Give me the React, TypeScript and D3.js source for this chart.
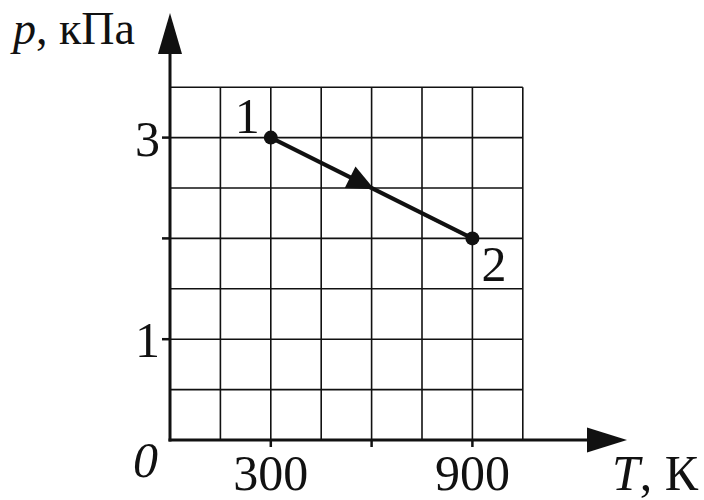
import React from "react";
import * as d3 from "d3";

const W = 704;
const H = 500;

// Data
const gridT = [150, 300, 450, 600, 750, 900, 1050];
const gridP = [0.5, 1, 1.5, 2, 2.5, 3, 3.5];
const tickT = [300, 600, 900];
const tickP = [1, 2, 3];
const labelT = [300, 900];
const labelP = [1, 3];
const processT = [300, 900];
const processP = [3, 2];
const processNames = ["1", "2"];

const FONT = "'Liberation Serif', 'DejaVu Serif', serif";

export default function App() {
  const x = d3.scaleLinear().domain([0, 1050]).range([170, 522.8]);
  const y = d3.scaleLinear().domain([0, 3.5]).range([440, 87.2]);

  const pts = processT.map((t, i) => ({ t, p: processP[i], name: processNames[i] }));
  const line = d3
    .line<{ t: number; p: number }>()
    .x((d) => x(d.t))
    .y((d) => y(d.p));

  // arrow at midpoint
  const midT = (processT[0] + processT[1]) / 2;
  const midP = (processP[0] + processP[1]) / 2;
  const mx = x(midT);
  const my = y(midP);
  const dx = x(processT[1]) - x(processT[0]);
  const dy = y(processP[1]) - y(processP[0]);
  const ang = (Math.atan2(dy, dx) * 180) / Math.PI;

  const x0 = x(0);
  const y0 = y(0);
  const xMax = x(1050);
  const yMax = y(3.5);

  return (
    <svg
      width={W}
      height={H}
      style={{ position: "absolute", left: 0, top: 0, background: "#fff" }}
    >
      <rect width={W} height={H} fill="#fff" />
      {/* grid */}
      <g stroke="#111" strokeWidth={1.6}>
        {gridT.map((t) => (
          <line key={"gt" + t} x1={x(t)} x2={x(t)} y1={y0} y2={yMax} />
        ))}
        {gridP.map((p) => (
          <line key={"gp" + p} x1={x0} x2={xMax} y1={y(p)} y2={y(p)} />
        ))}
      </g>
      {/* ticks */}
      <g stroke="#111" strokeWidth={2.5}>
        {tickT.map((t) => (
          <line key={"tt" + t} x1={x(t)} x2={x(t)} y1={y0} y2={y0 + 7} />
        ))}
        {tickP.map((p) => (
          <line key={"tp" + p} x1={x0 - 8} x2={x0} y1={y(p)} y2={y(p)} />
        ))}
      </g>
      {/* axes */}
      <g stroke="#111" strokeWidth={3}>
        <line x1={x0} x2={x0} y1={y0 + 1.5} y2={52} />
        <line x1={x0 - 1.5} x2={590} y1={y0} y2={y0} />
      </g>
      <path d={`M${x0},13 L${x0 + 12},54 L${x0 - 12},54 Z`} fill="#111" />
      <path d={`M627,${y0} L587,${y0 - 12.5} L587,${y0 + 12.5} Z`} fill="#111" />

      {/* process line */}
      <path d={line(pts) || ""} stroke="#111" strokeWidth={4} fill="none" />
      <g transform={`translate(${mx},${my}) rotate(${ang})`}>
        <path d="M3,0 L-24,-12 L-24,12 Z" fill="#111" />
      </g>
      {pts.map((d) => (
        <circle key={d.name} cx={x(d.t)} cy={y(d.p)} r={7} fill="#111" />
      ))}

      {/* labels */}
      <g fontFamily={FONT} fontSize={50} fill="#111">
        <text x={x(processT[0]) - 11} y={y(processP[0]) - 5} textAnchor="end">
          {pts[0].name}
        </text>
        <text x={x(processT[1]) + 9} y={y(processP[1]) + 43} textAnchor="start">
          {pts[1].name}
        </text>
        {labelP.map((p) => (
          <text key={"lp" + p} x={x0 - 10} y={y(p) + 18} textAnchor="end">
            {p}
          </text>
        ))}
        {labelT.map((t) => (
          <text key={"lt" + t} x={x(t)} y={490} textAnchor="middle">
            {t}
          </text>
        ))}
        <text x={x0 - 12} y={477} textAnchor="end" fontStyle="italic">
          0
        </text>
        <text x={13} y={44} fontSize={46}>
          <tspan fontStyle="italic">p</tspan>
          <tspan>, кПа</tspan>
        </text>
        <text x={612} y={490}>
          <tspan fontStyle="italic">T</tspan>
          <tspan>, К</tspan>
        </text>
      </g>
    </svg>
  );
}
